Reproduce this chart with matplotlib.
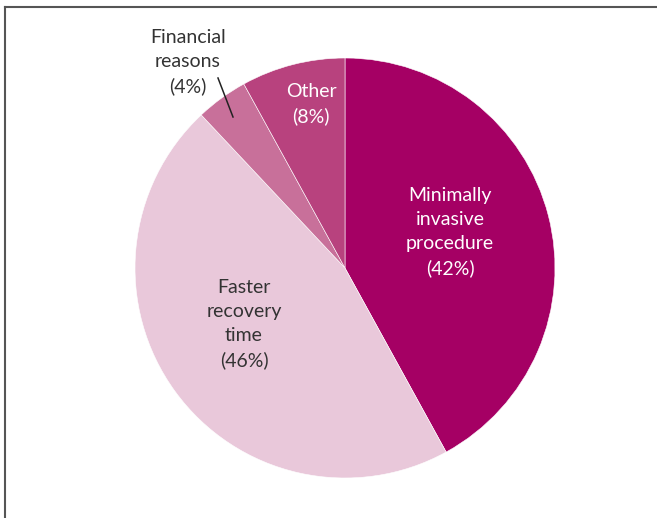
import matplotlib.pyplot as plt
from matplotlib.lines import Line2D

labels = ['Minimally\ninvasive\nprocedure\n(42%)', 'Faster\nrecovery\ntime\n(46%)',
          'Financial\nreasons\n(4%)', 'Other\n(8%)']
shares = [42, 46, 4, 8]
colors = ['#A50064', '#E9C8DA', '#C8709A', '#B8427E']
text_colors = ['white', '#333333', '#333333', 'white']
# label centres in pixel coords (x right, y down)
label_pos = [(450, 232), (244, 324), (188, 62), (311, 104)]

W, H = 657, 518
fig = plt.figure(figsize=(W / 100, H / 100), dpi=100)
ax = fig.add_axes([0, 0, 1, 1])

cx, cy, r = 345, H - 268, 210
ax.pie(shares, colors=colors, startangle=90, counterclock=False,
       center=(cx, cy), radius=r, frame=True,
       wedgeprops=dict(edgecolor='white', linewidth=0.4))
ax.set_xlim(0, W)
ax.set_ylim(0, H)
ax.axis('off')

for lab, (px, py), tc in zip(labels, label_pos, text_colors):
    ax.text(px, H - py, lab, ha='center', va='center', color=tc,
            fontsize=14, family='Lato', linespacing=1.48)

# leader line for the small slice
ax.plot([218, 233], [H - 78, H - 117], color='#222222', lw=1.1)

# partial frame (top and left only)
fig.add_artist(Line2D([5 / W, 1], [1 - 7 / H, 1 - 7 / H], color='#555555', lw=1.5))
fig.add_artist(Line2D([5 / W, 5 / W], [0, 1 - 7 / H], color='#555555', lw=1.5))

fig.savefig('out.png', dpi=100)
